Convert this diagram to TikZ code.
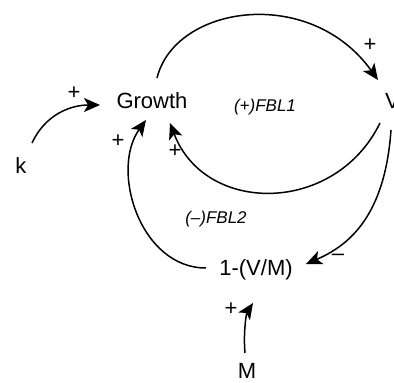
\documentclass[tikz,border=0pt]{standalone}
\usepackage{fontspec}
\setmainfont{Liberation Sans}
\usetikzlibrary{arrows.meta}
\begin{document}
\begin{tikzpicture}[x=1pt,y=-1pt,
  var/.style={inner sep=0pt,font=\fontsize{22}{26}\selectfont},
  sgn/.style={inner sep=0pt,font=\fontsize{22}{24}\selectfont},
  loopname/.style={inner sep=0pt,font=\fontsize{17}{20}\selectfont\itshape},
  link/.style={line width=1.5pt,-{Stealth[length=16pt,width=14pt,inset=4pt]}}]
\useasboundingbox (0,0) rectangle (394,383);
\node[var] (growth) at (152,101) {Growth};
\node[var] (k) at (21,166) {k};
\node[var,anchor=west] (v) at (385,101) {V};
\node[var] (vm) at (256,270) {1-(V/M)};
\node[var] (m) at (247,371) {M};
\node[loopname] (fbl1) at (265,107) {(+)FBL1};
\node[loopname] (fbl2) at (216,219) {(–)FBL2};
% endpoints
\coordinate (kS) at (32,143);
\coordinate (gL) at (100,105);
\coordinate (gT) at (157,78);
\coordinate (vT) at (378,80);
\coordinate (vB) at (380,123);
\coordinate (gR) at (170,123);
\coordinate (vB2) at (391,130);
\coordinate (vmR) at (306,264);
\coordinate (vmL) at (206,268);
\coordinate (gB) at (146,120);
\coordinate (mT) at (245,353);
\coordinate (vmB) at (253,303);
\draw[link] (kS) .. controls (45,115) and (70,105) .. (gL);
\draw[link] (gT) .. controls (175,5) and (310,-15) .. (vT);
\draw[link] (vB) .. controls (335,215) and (205,215) .. (gR);
\draw[link] (vB2) .. controls (385,215) and (350,245) .. (vmR);
\draw[link] (vmL) .. controls (140,268) and (110,170) .. (gB);
\draw[link] (mT) .. controls (243,330) and (247,312) .. (vmB);
\node[sgn] (s1) at (74,93) {+};
\node[sgn] (s2) at (370,45) {+};
\node[sgn] (s3) at (175,151) {+};
\node[sgn] (s4) at (338,257) {–};
\node[sgn] (s5) at (118,141) {+};
\node[sgn] (s6) at (231,309) {+};
\end{tikzpicture}
\end{document}
